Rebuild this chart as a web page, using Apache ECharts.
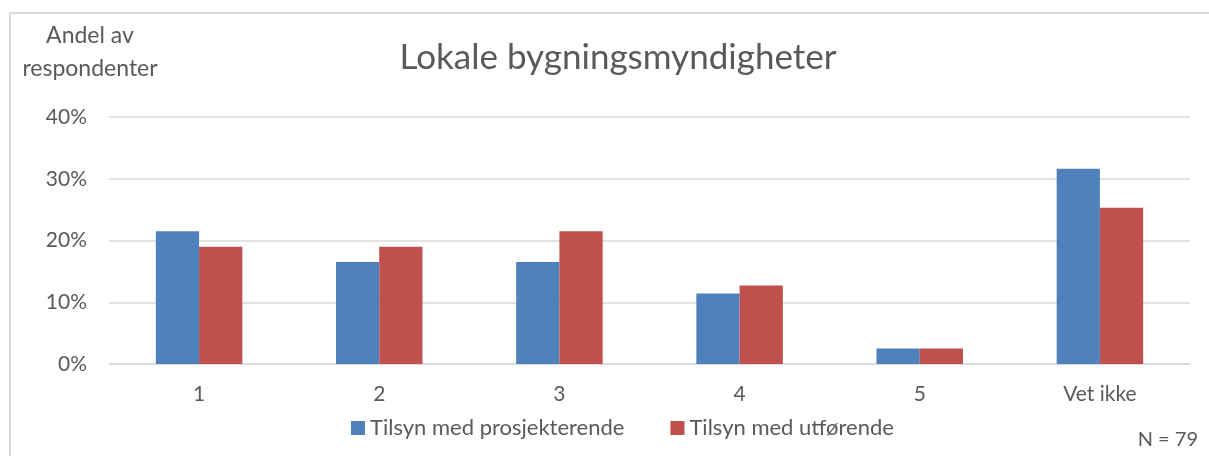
<!DOCTYPE html>
<html>
<head>
<meta charset="utf-8">
<script src="https://cdn.jsdelivr.net/npm/echarts@6/dist/echarts.min.js"></script>
<style>
  html, body { margin: 0; padding: 0; background: #fff; }
  #chart { width: 1209px; height: 456px; }
</style>
</head>
<body>
<div id="chart"></div>
<script>
  var categories = ["1", "2", "3", "4", "5", "Vet ikke"];
  var prosjekterende = [21.5, 16.5, 16.5, 11.4, 2.5, 31.6];
  var utforende = [19.0, 19.0, 21.5, 12.7, 2.5, 25.3];
  var seriesNames = ["Tilsyn med prosjekterende", "Tilsyn med utførende"];

  var font = "Lato, 'Open Sans', sans-serif";
  var chart = echarts.init(document.getElementById("chart"));
  var option = {
    animation: false,
    textStyle: { fontFamily: font },
    title: {
      text: "Lokale bygningsmyndigheter",
      left: 613,
      textAlign: "center",
      top: 35,
      textStyle: { fontSize: 35, fontWeight: "normal", color: "#595959", fontFamily: font }
    },
    graphic: [
      {
        type: "polyline",
        shape: { points: [[10, 460], [10, 13], [1212, 13]] },
        style: { stroke: "#d9d9d9", lineWidth: 2, fill: null }
      },
      {
        type: "text",
        right: 11,
        top: 430,
        style: { text: "N = 79", fontSize: 20, fill: "#595959", fontFamily: font }
      }
    ],
    legend: {
      data: seriesNames,
      bottom: 12,
      left: 346,
      itemWidth: 14,
      itemHeight: 14,
      itemGap: 46,
      icon: "rect",
      textStyle: { fontSize: 22, color: "#595959", fontFamily: font }
    },
    grid: { left: 109, right: 19, top: 117, bottom: 92 },
    xAxis: {
      type: "category",
      data: categories,
      axisLine: { lineStyle: { color: "#d9d9d9", width: 1.5 } },
      axisTick: { show: false },
      axisLabel: { fontSize: 21, color: "#595959", margin: 20 }
    },
    yAxis: {
      type: "value",
      min: 0,
      max: 40,
      interval: 10,
      name: "Andel av\nrespondenter",
      nameLocation: "end",
      nameGap: 32,
      nameTextStyle: { fontSize: 23, color: "#595959", align: "center", lineHeight: 33, padding: [0, 38, 0, 0] },
      axisLabel: { formatter: "{value}%", fontSize: 21, color: "#595959", margin: 22 },
      splitLine: { lineStyle: { color: "#d9d9d9", width: 1.5 } }
    },
    series: [
      {
        name: seriesNames[0],
        type: "bar",
        data: prosjekterende,
        barGap: "0%",
        barCategoryGap: "52%",
        itemStyle: { color: "#4f81bd" }
      },
      {
        name: seriesNames[1],
        type: "bar",
        data: utforende,
        itemStyle: { color: "#c0504d" }
      }
    ]
  };
  chart.setOption(option);
</script>
</body>
</html>
